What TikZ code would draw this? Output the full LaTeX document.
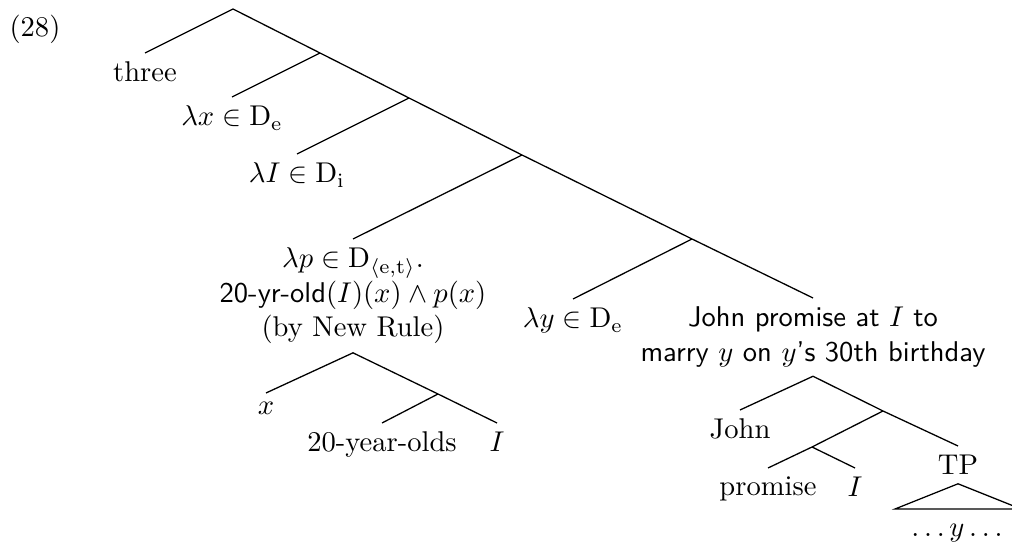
\documentclass[tikz,border=0pt]{standalone}
\usepackage{amssymb}
\begin{document}
\begin{tikzpicture}[x=0.35pt,y=-0.35pt,
  lf/.style={inner xsep=0pt, inner ysep=3.2pt, outer sep=0pt, anchor=north},
  ml/.style={lf, align=center},
  br/.style={line width=0.45pt}]
\useasboundingbox (0,0) rectangle (1012,542);
\node[anchor=west, inner sep=0pt] (ex) at (9,29) {(28)};
% spine junctions
\coordinate (root) at (233,9);
\coordinate (j1) at (320,53);
\coordinate (j2) at (409,98);
\coordinate (j3) at (522,155);
\coordinate (j4) at (692,239);
% left leaves
\node[lf] (three) at (145,53) {three};
\node[lf] (lx) at (232,97) {$\lambda x\in \mathrm{D}_{\mathrm{e}}$};
\node[lf] (lI) at (297,154) {$\lambda I\in \mathrm{D}_{\mathrm{i}}$};
\node[ml] (lp) at (353,239) {$\lambda p\in \mathrm{D}_{\langle\mathrm{e,t}\rangle}$.\\
  \textsf{20-yr-old}$(I)(x)\wedge p(x)$\\(by New Rule)};
\node[lf] (ly) at (573,299) {$\lambda y\in \mathrm{D}_{\mathrm{e}}$};
\node[ml] (jp) at (813,298) {\textsf{John promise at $I$ to}\\
  \textsf{marry $y$ on $y$'s 30th birthday}};
% lambda-p subtree
\coordinate (j5) at (438,394);
\node[lf] (x) at (266,393) {$x$};
\node[lf] (tw) at (382,423) {20-year-olds};
\node[lf] (I1) at (497,423) {$I$};
% John subtree
\coordinate (j6) at (883,411);
\coordinate (j7) at (812,447);
\node[lf] (john) at (740,410) {John};
\node[lf] (tp) at (958,446) {TP};
\node[lf] (prom) at (768,468) {promise};
\node[lf] (I2) at (855,468) {$I$};
\coordinate (tl) at (895,509);
\coordinate (tr) at (1021,509);
\node[lf] (dots) at (957,515) {$\ldots y\ldots$};
% branches
\draw[br] (three.north) -- (root) -- (j1) -- (j2) -- (j3) -- (j4) -- (jp.north);
\draw[br] (j1) -- (lx.north);
\draw[br] (j2) -- (lI.north);
\draw[br] (j3) -- (lp.north);
\draw[br] (j4) -- (ly.north);
\draw[br] (x.north) -- (lp.south) -- (j5) -- (I1.north);
\draw[br] (j5) -- (tw.north);
\draw[br] (john.north) -- (jp.south) -- (j6) -- (tp.north);
\draw[br] (j6) -- (j7) -- (prom.north);
\draw[br] (j7) -- (I2.north);
\draw[br] (tp.south) -- (tl) -- (tr) -- cycle;
\end{tikzpicture}
\end{document}
